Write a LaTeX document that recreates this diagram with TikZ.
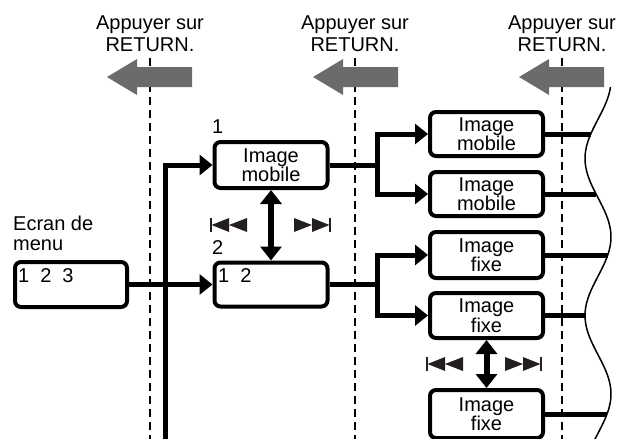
\documentclass[tikz,border=0pt]{standalone}
\usepackage{fontspec}
\setmainfont{Liberation Sans}
\usetikzlibrary{arrows.meta}
\definecolor{greyarrow}{HTML}{6B6B6B}
\definecolor{skipcol}{HTML}{231F20}
\begin{document}
\begin{tikzpicture}[x=1pt,y=-1pt,
  txt/.style={font=\fontsize{20}{21}\selectfont, inner sep=0pt},
  box/.style={draw, line width=4pt, rounded corners=6pt, minimum width=113pt,
    minimum height=45pt, inner sep=0pt, align=center,
    font=\fontsize{20}{19.5}\selectfont, fill=white},
  conn/.style={line width=5pt},
  arr/.style={conn, -{Triangle[length=13pt,width=20pt]}},
  darr/.style={line width=6pt, {Triangle[length=14pt,width=21pt]}-{Triangle[length=14pt,width=21pt]}},
  guide/.style={line width=1.8pt, dash pattern=on 8pt off 5pt},
  skipback/.pic={\draw[skipcol, line width=1.3pt] (0,-7) -- (0,7);
    \fill[skipcol] (0.6,0) -- (18,-7) -- (18,7) -- cycle (18,0) -- (36,-7) -- (36,7) -- cycle;},
  skipfwd/.pic={\draw[skipcol, line width=1.3pt] (0,-7) -- (0,7);
    \fill[skipcol] (-0.6,0) -- (-18,-7) -- (-18,7) -- cycle (-18,0) -- (-36,-7) -- (-36,7) -- cycle;},
]
\useasboundingbox (0,0) rectangle (619,439);

% dashed guides
\foreach \gx in {150,355,562} {\draw[guide] (\gx,58) -- (\gx,441);}

% grey RETURN arrows
\foreach \sx in {0,206,412} {
  \fill[greyarrow,xshift=\sx pt] (107,77) -- (137,59) -- (137,67) -- (192,67) -- (192,87)
    -- (137,87) -- (137,95) -- cycle;}

% RETURN labels
\foreach \lx/\nm in {150/r1,355/r2,562/r3} {
  \node[txt, align=center, anchor=base] (\nm) at (\lx,51) {Appuyer sur\\RETURN.};}

% wavy cut edge
\draw[line width=1.5pt] plot[domain=87:441, samples=90, smooth]
  ({598+13*cos(2.29299*(\x-80))}, \x);

% boxes
\node[box, minimum width=112pt] (menu) at (71,284.5) {};
\node[txt, anchor=base west] (menutxt) at (18,282) {1\hspace{11pt}2\hspace{11pt}3};
\node[txt, anchor=base west, align=left, font=\fontsize{20}{19.5}\selectfont] (ecran) at (13,250) {Ecran de\\menu};

\node[box, minimum height=46pt] (b1) at (271,165) {Image\\mobile};
\node[txt, anchor=base west] (l1) at (212,133) {1};
\node[box, minimum height=44pt] (b2) at (271,284.5) {};
\node[txt, anchor=base west] (b2txt) at (218,282) {1\hspace{11pt}2};
\node[txt, anchor=base west] (l2) at (212,254) {2};

\node[box, minimum height=44pt] (bA) at (486.5,134) {Image\\mobile};
\node[box, minimum height=44pt] (bB) at (486.5,194) {Image\\mobile};
\node[box, minimum height=46pt] (bC) at (486.5,255) {Image\\fixe};
\node[box, minimum height=45pt] (bD) at (486.5,315.5) {Image\\fixe};
\node[box, minimum height=48pt] (bE) at (486.5,414) {Image\\fixe};

% connectors
\coordinate (bot) at (165,441);
\draw[arr, line join=miter] (bot) |- (b1.west);
\draw[arr] (menu.east) -- (b2.west);

\draw[conn] (b1.east) -- (377,165) coordinate (j1);
\draw[arr, line join=miter] (j1) |- (bA.west);
\draw[arr, line join=miter] (j1) |- (bB.west);
\draw[conn] (b2.east) -- (377,284.5) coordinate (j2);
\draw[arr, line join=miter] (j2) |- (bC.west);
\draw[arr, line join=miter] (j2) |- (bD.west);

\draw[darr] (b1.south) -- (b2.north);
\draw[darr] (bD.south) -- (bE.north);

% skip symbols
\pic at (211,225) {skipback};
\pic at (330,225) {skipfwd};
\pic at (427,364) {skipback};
\pic at (541,364) {skipfwd};

% lines to the cut edge
\foreach \n/\yy in {A/134,B/194,C/255,D/315.5,E/414} {
  \coordinate (w\n) at ({598+13*cos(2.29299*(\yy-80))},\yy);
  \draw[conn] (b\n.east) -- (w\n);}
\end{tikzpicture}
\end{document}
